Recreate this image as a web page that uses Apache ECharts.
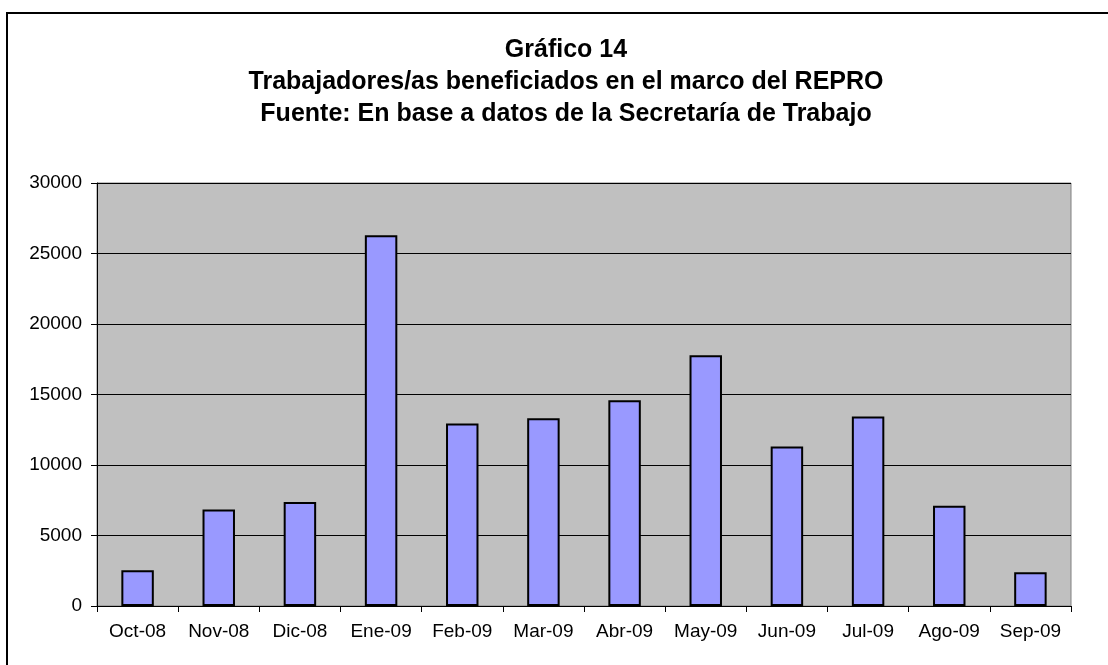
<!DOCTYPE html>
<html>
<head>
<meta charset="utf-8">
<script src="https://cdn.jsdelivr.net/npm/echarts@6/dist/echarts.min.js"></script>
<style>
  html, body { margin: 0; padding: 0; background: #fff; overflow: hidden; }
  #frame { position: absolute; left: 6px; top: 12px; width: 1200px; height: 800px; border-left: 2px solid #000; border-top: 2px solid #000; }
  #chart { position: absolute; left: 0; top: 0; width: 1108px; height: 665px; }
</style>
</head>
<body>
<div id="frame"></div>
<div id="chart"></div>
<script>
  // meses
  const months = ['Oct-08', 'Nov-08', 'Dic-08', 'Ene-09', 'Feb-09', 'Mar-09',
                  'Abr-09', 'May-09', 'Jun-09', 'Jul-09', 'Ago-09', 'Sep-09'];
  // trabajadores beneficiados
  const workers = [2530, 6850, 7370, 26300, 12950, 13320,
                   14600, 17790, 11320, 13440, 7110, 2390];
  const yTicks = [0, 5000, 10000, 15000, 20000, 25000, 30000];

  const titleLines = [
    'Gráfico 14',
    'Trabajadores/as beneficiados en el marco del REPRO',
    'Fuente: En base a datos de la Secretaría de Trabajo'
  ];

  let myChart = echarts.init(document.getElementById('chart'), null, { renderer: 'canvas' });
  myChart.setOption({
    animation: false,
    title: {
      text: titleLines.join('\n'),
      left: 566, top: 34, textAlign: 'center', padding: 0,
      textStyle: { fontFamily: 'Liberation Sans', fontWeight: 'bold', fontSize: 25, color: '#000', lineHeight: 32 }
    },
    grid: { left: 97, top: 183, width: 974, height: 423, show: true, backgroundColor: '#c0c0c0', borderColor: '#808080', borderWidth: 1 },
    xAxis: {
      type: 'category',
      data: months,
      axisLine: { lineStyle: { color: '#000', width: 1 } },
      axisTick: { show: true, length: 6, lineStyle: { color: '#000' } },
      axisLabel: { fontFamily: 'Liberation Sans', fontSize: 19, color: '#000', margin: 16, interval: 0 }
    },
    yAxis: {
      type: 'value',
      min: 0, max: yTicks[yTicks.length - 1], interval: 5000,
      axisLine: { show: true, lineStyle: { color: '#000', width: 1 } },
      axisTick: { show: true, length: 6, lineStyle: { color: '#000' } },
      axisLabel: { fontFamily: 'Liberation Sans', fontSize: 19, color: '#000', margin: 15, formatter: v => String(v) },
      splitLine: { show: true, lineStyle: { color: '#000', width: 1 } }
    },
    series: [{
      type: 'bar',
      data: workers,
      barCategoryGap: '60%',
      itemStyle: { color: '#9999ff', borderColor: '#000', borderWidth: 2 }
    }]
  });
</script>
</body>
</html>
